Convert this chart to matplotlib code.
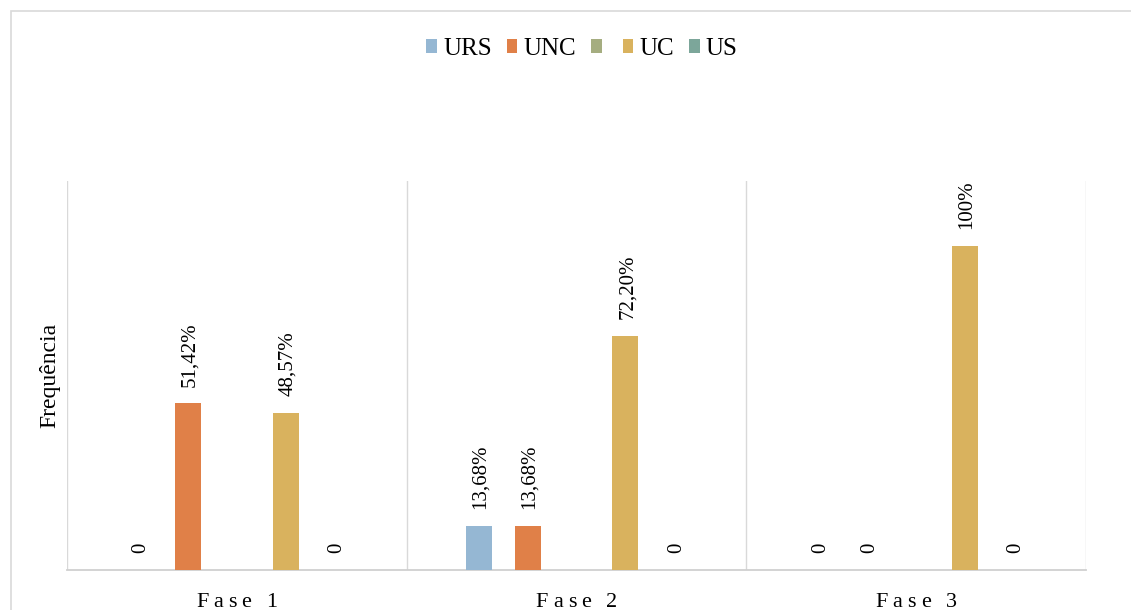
import numpy as np
import matplotlib
matplotlib.use("Agg")
import matplotlib.pyplot as plt
from matplotlib.patches import Rectangle, Patch

plt.rcParams['font.family'] = ['Liberation Serif', 'DejaVu Serif']

fases = ['Fase 1', 'Fase 2', 'Fase 3']
series = ['URS', 'UNC', '', 'UC', 'US']
colors = ['#95B7D3', '#E08048', '#A5AD80', '#D9B25E', '#7CA69A']

# frequencia (%) por fase; a terceira serie nao tem dados
urs = [0, 13.68, 0]
unc = [51.42, 13.68, 0]
vazia = [np.nan, np.nan, np.nan]
uc = [48.57, 72.20, 100]
us = [0, 0, 0]
valores = [urs, unc, vazia, uc, us]


def rotulo(v):
    if v == 0:
        return '0'
    if float(v).is_integer():
        return f'{v:.0f}%'
    return f'{v:.2f}%'.replace('.', ',')


W, H = 1131, 610
fig = plt.figure(figsize=(W / 100, H / 100), dpi=100)
ax = fig.add_axes([67 / W, 40 / H, (1086 - 67) / W, (570 - 181) / H])

x = np.arange(len(fases))
passo = 0.144
largura = 0.077
for i, (vals, cor) in enumerate(zip(valores, colors)):
    pos = x + (i - 2) * passo
    ax.bar(pos, vals, width=largura, color=cor, zorder=3)
    for p, v in zip(pos, vals):
        if np.isnan(v):
            continue
        ax.annotate(rotulo(v), (p + 0.006, v), xytext=(0, 12), textcoords='offset points',
                    rotation=90, ha='center', va='bottom', fontsize=15)

ax.set_xlim(-0.5, 2.5)
ax.set_ylim(0, 120)
for xv in [-0.5, 0.5, 1.5, 2.5]:
    ax.axvline(xv, color='#D9D9D9', lw=1, zorder=1)

for s in ['top', 'right', 'left']:
    ax.spines[s].set_visible(False)
ax.spines['bottom'].set_color('#D0D0D0')
ax.spines['bottom'].set_linewidth(1.3)
ax.set_yticks([])
ax.set_xticks(x)
ax.set_xticklabels([])
ax.tick_params(axis='x', length=0)

# rotulos das fases com espacamento entre letras
fig.canvas.draw()
renderer = fig.canvas.get_renderer()
espaco = 4.8
for nome, xc in zip(fases, x):
    larguras = []
    for ch in nome:
        t = fig.text(0, 0, ch if ch != ' ' else 'n', fontsize=16)
        w = t.get_window_extent(renderer).width
        t.remove()
        larguras.append(w * 0.5 if ch == ' ' else w)
    total = sum(larguras) + espaco * (len(nome) - 1)
    xp = ax.transData.transform((xc, 0))[0] - total / 2
    for ch, w in zip(nome, larguras):
        if ch != ' ':
            fig.text(xp / W, (H - 607) / H, ch, fontsize=16, ha='left', va='baseline')
        xp += w + espaco

fig.text(50 / W, 1 - 375 / H, 'Frequência', rotation=90, ha='center', va='center', fontsize=17)

handles = [Patch(facecolor=c, edgecolor='none') for c in colors]
fig.legend(handles, series, loc='center', bbox_to_anchor=(582 / W, 1 - 49 / H), ncol=5,
           frameon=False, fontsize=18, handlelength=0.42, handleheight=0.5,
           handletextpad=0.25, columnspacing=0.6, borderpad=0)

# moldura externa do grafico
fig.add_artist(Rectangle((11 / W, -0.1), 1.2, 1.1 - 11 / H, transform=fig.transFigure,
                         fill=False, edgecolor='#D9D9D9', lw=1.2))

fig.savefig('out.png', dpi=100)
